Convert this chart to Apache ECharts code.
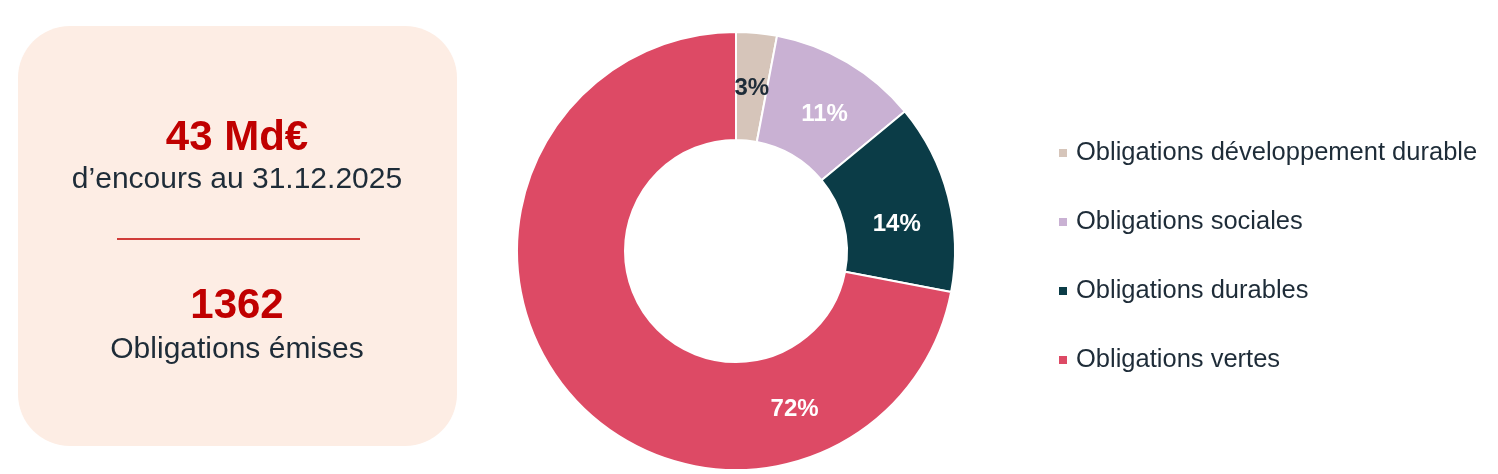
<!DOCTYPE html>
<html>
<head>
<meta charset="utf-8">
<script src="https://cdn.jsdelivr.net/npm/echarts@6/dist/echarts.min.js"></script>
<style>html,body{margin:0;padding:0;background:#fff}#c{width:1498px;height:474px}</style>
</head>
<body>
<div id="c"></div>
<script>
const categories = ['Obligations développement durable', 'Obligations sociales', 'Obligations durables', 'Obligations vertes'];
const shares = [3, 11, 14, 72];
const colors = ['#D6C5BA', '#C9B1D3', '#0B3C47', '#DD4A65'];
const labelColors = ['#1E2C38', '#FFFFFF', '#FFFFFF', '#FFFFFF'];
const kpiValues = ['43 Md€', '1362'];
const kpiCaptions = ['d’encours au 31.12.2025', 'Obligations émises'];

const FONT = '"Liberation Sans", Arial, sans-serif';
const DARK = '#1E2C38';
const RED = '#C00000';

const chart = echarts.init(document.getElementById('c'), null, { renderer: 'canvas' });

const labelShift = [[0, 5], [3, 8], [-2, 15], [188, 51]];

chart.setOption({
  animation: false,
  backgroundColor: '#FFFFFF',
  graphic: [
    { type: 'rect', shape: { x: 18, y: 26, width: 439, height: 420, r: 52 }, style: { fill: '#FDEDE4' }, z: 0 },
    { type: 'text', x: 237, y: 138, style: { text: kpiValues[0], font: 'bold 42px ' + FONT, fill: RED, align: 'center', verticalAlign: 'middle' }, z: 1 },
    { type: 'text', x: 237, y: 180, style: { text: kpiCaptions[0], font: '30px ' + FONT, fill: DARK, align: 'center', verticalAlign: 'middle' }, z: 1 },
    { type: 'line', shape: { x1: 117, y1: 239, x2: 360, y2: 239 }, style: { stroke: RED, lineWidth: 1.5 }, z: 1 },
    { type: 'text', x: 237, y: 306, style: { text: kpiValues[1], font: 'bold 42px ' + FONT, fill: RED, align: 'center', verticalAlign: 'middle' }, z: 1 },
    { type: 'text', x: 237, y: 350, style: { text: kpiCaptions[1], font: '30px ' + FONT, fill: DARK, align: 'center', verticalAlign: 'middle' }, z: 1 }
  ],
  legend: {
    orient: 'vertical',
    left: 1057,
    top: 140,
    padding: 0,
    itemWidth: 10,
    itemHeight: 10,
    itemGap: 43,
    icon: 'rect',
    selectedMode: false,
    data: categories,
    textStyle: { fontFamily: FONT, fontSize: 25.5, color: DARK, lineHeight: 25, padding: [0, 0, 0, 3] }
  },
  series: [{
    type: 'pie',
    center: [736, 251],
    radius: [111, 219],
    startAngle: 90,
    clockwise: true,
    avoidLabelOverlap: false,
    silent: true,
    itemStyle: { borderColor: '#FFFFFF', borderWidth: 2 },
    label: {
      show: true,
      position: 'inside',
      formatter: p => p.value + '%',
      fontFamily: FONT,
      fontSize: 24,
      fontWeight: 'bold'
    },
    labelLine: { show: false },
    labelLayout: p => ({ dx: labelShift[p.dataIndex][0], dy: labelShift[p.dataIndex][1] }),
    data: categories.map((name, i) => ({
      name: name,
      value: shares[i],
      itemStyle: { color: colors[i] },
      label: { color: labelColors[i] }
    }))
  }]
});
</script>
</body>
</html>
